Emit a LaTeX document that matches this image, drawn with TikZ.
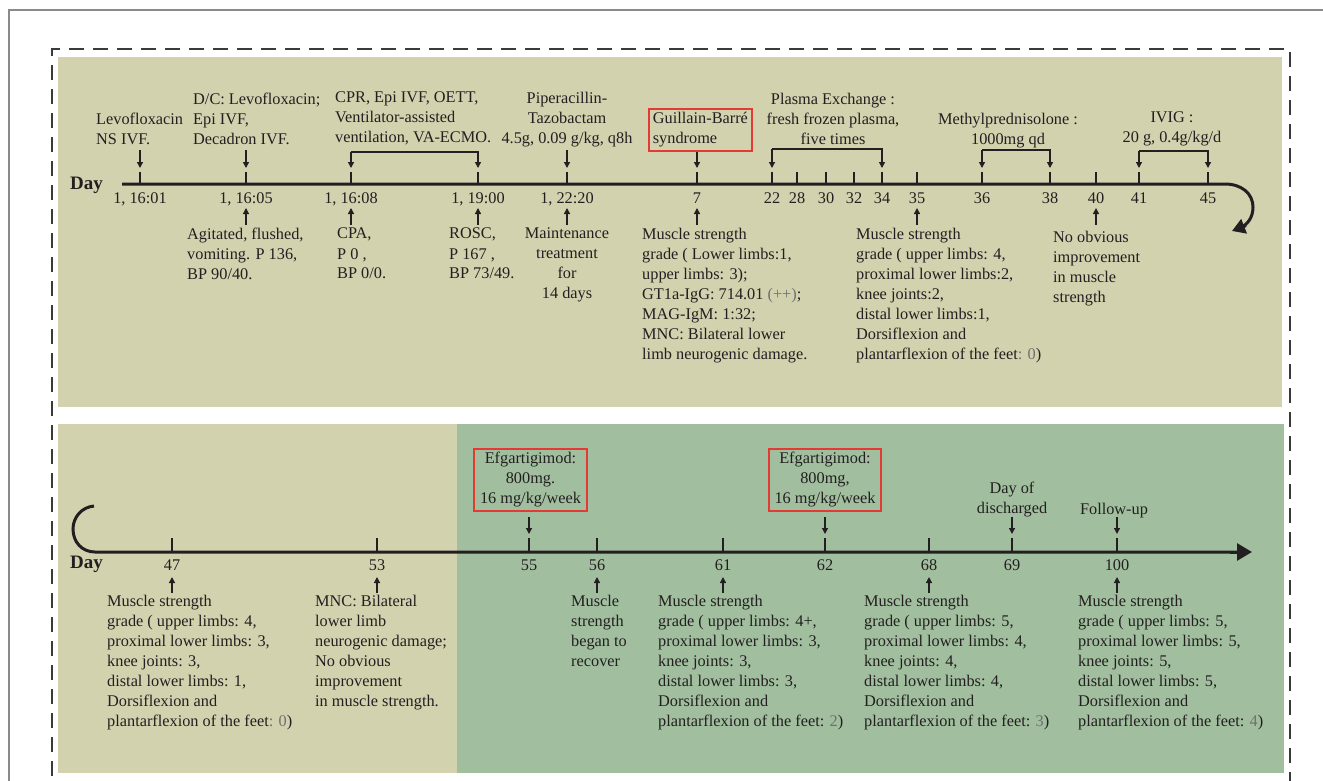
\documentclass[tikz,border=0pt]{standalone}
\usepackage{fontspec}
\setmainfont{Liberation Serif}
\usetikzlibrary{arrows.meta}
\definecolor{khaki}{HTML}{D2D2AF}
\definecolor{sage}{HTML}{A1BF9F}
\definecolor{ink}{HTML}{231F20}
\definecolor{redbox}{HTML}{E53935}
\definecolor{framegray}{HTML}{8A8A8A}
\definecolor{dashgray}{HTML}{3A3A3A}
\definecolor{soft}{HTML}{707070}
\begin{document}
\begin{tikzpicture}[x=1pt,y=-1pt,
 txt/.style={font=\fontsize{16.3}{20}\selectfont, text=ink, inner sep=0pt, align=left, anchor=north west},
 ctxt/.style={txt, align=center, anchor=north},
 lbl/.style={font=\fontsize{16.3}{20}\selectfont, text=ink, inner sep=0pt, anchor=base},
 dayl/.style={font=\fontsize{19}{22}\selectfont\bfseries, text=ink, inner sep=0pt, anchor=west},
 axisline/.style={line width=3pt, draw=ink},
 tickline/.style={line width=1.5pt, draw=ink},
 arr/.style={line width=1.3pt, draw=ink, -{Triangle[length=6pt,width=6pt]}},
 plainline/.style={line width=1.3pt, draw=ink},
 rbox/.style={draw=redbox, line width=1.8pt, inner xsep=4pt, inner ysep=3.5pt}
]
\useasboundingbox (0,0) rectangle (1323,780);
% outer frame and dashed box
\draw[framegray, line width=1.5pt] (9,790) -- (9,10) -- (1330,10);
\fill[khaki] (58,57) rectangle (1282,407);
\fill[khaki] (58,424) rectangle (457,773);
\fill[sage] (457,424) rectangle (1284,773);
\draw[dashgray, line width=2pt, dash pattern=on 15pt off 9pt] (52,800) -- (52,49) -- (1290,49) -- (1290,800);

% ---------------- top timeline ----------------
\node[dayl] (day1) at (70,185) {Day};
\draw[axisline] (122,184) -- (1225,184) .. controls (1242,184) and (1253,194) .. (1253,207)
  .. controls (1253,218) and (1247,225) .. (1240,228);
\draw[ink, line width=3pt, -{Triangle[length=13pt,width=15pt]}] (1246,225.5) -- (1232,231);

\foreach \n/\x/\l in {1/140/{1, 16:01},2/246/{1, 16:05},3/351/{1, 16:08},4/478/{1, 19:00},5/567/{1, 22:20},6/697/7,7/772/22,8/797/28,9/826/30,10/854/32,11/882/34,12/917/35,13/982/36,14/1050/38,15/1096/40,16/1139/41,17/1208/45}{
  \coordinate (T\n) at (\x,172);
  \coordinate (A\n) at (\x,184);
  \draw[tickline] (T\n) -- (A\n);
  \node[lbl] (L\n) at (\x,203) {\l};
}
% down arrows (single)
\foreach \n in {1,2,5,6}{
  \draw[arr] ([yshift=22pt]T\n) -- ([yshift=4pt]T\n);
}
% brackets
\draw[arr] ([yshift=20pt]T3) -- ([yshift=4pt]T3);
\draw[arr] ([yshift=20pt]T3) -| ([yshift=4pt]T4);
\draw[arr] ([yshift=23pt]T7) -- ([yshift=4pt]T7);
\draw[arr] ([yshift=23pt]T7) -| ([yshift=4pt]T11);
\draw[arr] ([yshift=22pt]T13) -- ([yshift=4pt]T13);
\draw[arr] ([yshift=22pt]T13) -| ([yshift=4pt]T14);
\draw[arr] ([yshift=21pt]T16) -- ([yshift=4pt]T16);
\draw[arr] ([yshift=21pt]T16) -| ([yshift=4pt]T17);
% up arrows
\foreach \n in {2,3,4,5,6,12,15}{
  \draw[arr] ([yshift=-41pt]A\n) -- ([yshift=-24pt]A\n);
}

% texts above
\node[txt] (lev) at (96,113) {Levofloxacin\\NS IVF.};
\node[txt] (dc) at (193,93) {D/C: Levofloxacin;\\Epi IVF,\\Decadron IVF.};
\node[txt] (cpr) at (335,92) {CPR, Epi IVF, OETT,\\Ventilator-assisted\\ventilation, VA-ECMO.};
\node[ctxt] (pip) at (567,92) {Piperacillin-\\Tazobactam\\4.5g, 0.09 g/kg, q8h};
\node[txt, rbox] (gbs) at (648,108) {Guillain-Barré\\syndrome};
\node[ctxt] (pe) at (833,93) {Plasma Exchange :\\fresh frozen plasma,\\five times};
\node[ctxt] (mp) at (1008,113) {Methylprednisolone :\\1000mg qd};
\node[ctxt] (iv) at (1172,112) {IVIG :\\20 g, 0.4g/kg/d};

% texts below
\node[txt] (ag) at (187,228) {Agitated, flushed,\\vomiting. P 136,\\BP 90/40.};
\node[txt] (cpa) at (337,228) {CPA,\\P 0 ,\\BP 0/0.};
\node[txt] (rosc) at (449,228) {ROSC,\\P 167 ,\\BP 73/49.};
\node[ctxt] (mt) at (567,228) {Maintenance\\treatment\\for\\14 days};
\node[txt] (ms7) at (642,228) {Muscle strength\\grade ( Lower limbs:1,\\upper limbs: 3);\\GT1a-IgG: 714.01 \textcolor{soft}{(++)};\\MAG-IgM: 1:32;\\MNC: Bilateral lower\\limb neurogenic damage.};
\node[txt] (ms35) at (856,228) {Muscle strength\\grade ( upper limbs: 4,\\proximal lower limbs:2,\\knee joints:2,\\distal lower limbs:1,\\Dorsiflexion and\\plantarflexion of the feet\textcolor{soft}{: 0})};
\node[txt] (no40) at (1053,231) {No obvious\\improvement\\in muscle\\strength};

% ---------------- bottom timeline ----------------
\node[dayl] (day2) at (70,564) {Day};
\draw[axisline] (94,506) .. controls (82,507) and (73,517) .. (73,529)
  .. controls (73,542) and (82,552) .. (95,552) -- (1240,552);
\draw[ink, line width=3pt, -{Triangle[length=15pt,width=17pt]}] (1230,552) -- (1252,552);

\foreach \n/\x/\l in {1/172/47,2/377/53,3/529/55,4/597/56,5/723/61,6/825/62,7/929/68,8/1012/69,9/1117/100}{
  \coordinate (U\n) at (\x,538);
  \coordinate (V\n) at (\x,552);
  \draw[tickline] (U\n) -- (V\n);
  \node[lbl] (M\n) at (\x,570) {\l};
}
\foreach \n in {3,6,8,9}{
  \draw[arr] ([yshift=21pt]U\n) -- ([yshift=4pt]U\n);
}
\foreach \n in {1,2,4,5,7,9}{
  \draw[arr] ([yshift=-41pt]V\n) -- ([yshift=-25pt]V\n);
}

\node[ctxt, rbox, minimum width=113pt] (ef1) at (530.5,448) {Efgartigimod:\\800mg.\\16 mg/kg/week};
\node[ctxt, rbox, minimum width=112pt] (ef2) at (825,448) {Efgartigimod:\\800mg,\\16 mg/kg/week};
\node[ctxt] (dis) at (1012,482) {Day of\\discharged};
\node[ctxt] (fu) at (1114,503) {Follow-up};

\node[txt] (ms47) at (107,595) {Muscle strength\\grade ( upper limbs: 4,\\proximal lower limbs: 3,\\knee joints: 3,\\distal lower limbs: 1,\\Dorsiflexion and\\plantarflexion of the feet\textcolor{soft}{: 0})};
\node[txt] (mnc53) at (315,595) {MNC: Bilateral\\lower limb\\neurogenic damage;\\No obvious\\improvement\\in muscle strength.};
\node[txt] (rec56) at (571,595) {Muscle\\strength\\began to\\recover};
\node[txt] (ms61) at (658,595) {Muscle strength\\grade ( upper limbs: 4+,\\proximal lower limbs: 3,\\knee joints: 3,\\distal lower limbs: 3,\\Dorsiflexion and\\plantarflexion of the feet: \textcolor{soft}{2})};
\node[txt] (ms68) at (864,595) {Muscle strength\\grade ( upper limbs: 5,\\proximal lower limbs: 4,\\knee joints: 4,\\distal lower limbs: 4,\\Dorsiflexion and\\plantarflexion of the feet: \textcolor{soft}{3})};
\node[txt] (ms100) at (1078,595) {Muscle strength\\grade ( upper limbs: 5,\\proximal lower limbs: 5,\\knee joints: 5,\\distal lower limbs: 5,\\Dorsiflexion and\\plantarflexion of the feet: \textcolor{soft}{4})};
\end{tikzpicture}
\end{document}
